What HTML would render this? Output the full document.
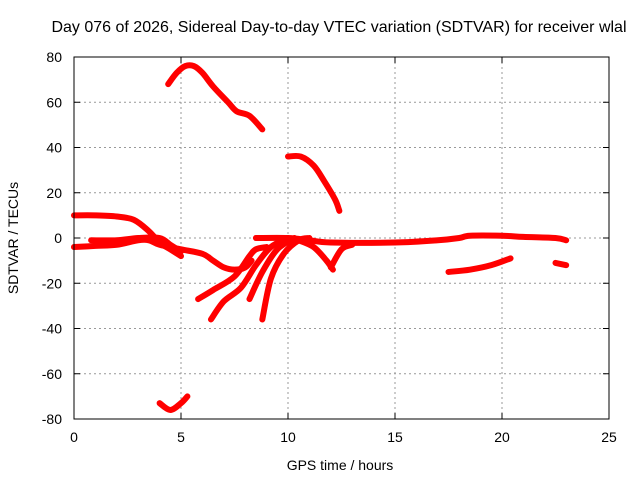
<!DOCTYPE html>
<html><head><meta charset="utf-8"><style>
body{margin:0;background:#fff;width:640px;height:480px;overflow:hidden}
svg{font-family:"Liberation Sans",sans-serif;font-size:14px}
</style></head><body>
<svg id="chart" width="640" height="480" viewBox="0 0 640 480">
<text x="339" y="32" text-anchor="middle" font-size="16">Day 076 of 2026, Sidereal Day-to-day VTEC variation (SDTVAR) for receiver wlal</text>
<g id="grid"></g>
<g id="series"></g>
<rect x="74" y="57" width="535" height="362" fill="none" stroke="#000" stroke-width="1"/>
<g id="ticks"></g>
<text x="340" y="470" text-anchor="middle">GPS time / hours</text>
<text transform="translate(18,238) rotate(-90)" text-anchor="middle">SDTVAR / TECUs</text>
</svg>
<script>
const xTicks=[0,5,10,15,20,25];
const yTicks=[80,60,40,20,0,-20,-40,-60,-80];
const arcTop=[[4.4,68],[4.8,73],[5.2,76],[5.6,76],[6,73],[6.5,67],[7.2,60],[7.6,56],[8.2,54],[8.8,48]];
const arcMid=[[10,36],[10.6,36],[11.2,32],[11.7,25],[12.2,17],[12.4,12]];
const trackA=[[0,10],[1,10],[2,9.5],[2.8,8],[3.5,3],[4,-2],[4.5,-5],[5,-8]];
const trackB=[[0,-4],[1,-3.5],[2,-3],[3,-1],[3.5,-1],[4,-3],[5,-5],[6,-7],[6.5,-10],[7,-13],[7.5,-14],[8,-13],[8.3,-10]];
const trackC=[[0.8,-1],[2,-1],[3,0],[4,0],[4.5,-3],[5,-6]];
const trackD=[[8.5,0],[10,0],[11,-1],[12,-2],[15,-2],[17,-1],[18,0],[18.5,1],[20,1],[21,0.5],[22.5,0],[23,-1]];
const trackE=[[17.5,-15],[18.5,-14],[19.5,-12],[20.4,-9]];
const trackF=[[22.5,-11],[23,-12]];
const trackG=[[4,-73],[4.5,-76],[5,-73],[5.3,-70]];
const riseA=[[5.8,-27],[6.5,-23],[7.5,-17],[8.2,-8],[8.5,-5],[9,-4]];
const riseB=[[6.4,-36],[7,-28],[7.8,-22],[8.5,-12],[9.2,-4],[10,0]];
const riseC=[[8.2,-27],[8.8,-15],[9.5,-5],[10.3,0]];
const riseD=[[8.8,-36],[9.2,-18],[9.8,-7],[10.5,-1],[11,0]];
const dipA=[[10.5,-1],[11.2,-4],[11.8,-10],[12.1,-14]];
const dipB=[[12,-13],[12.5,-5],[13,-3]];
const allSeries=[arcTop,arcMid,trackA,trackB,trackC,trackD,trackE,trackF,trackG,riseA,riseB,riseC,riseD,dipA,dipB];
const NS='http://www.w3.org/2000/svg';
const X0=74,X1=609,Y0=57,Y1=419;
function sx(v){return X0+(v-0)/(25-0)*(X1-X0);}
function sy(v){return Y1-(v+80)/160*(Y1-Y0);}
const grid=document.getElementById('grid'),ticks=document.getElementById('ticks'),ser=document.getElementById('series');
function mk(tag,attrs,parent){const e=document.createElementNS(NS,tag);for(const k in attrs)e.setAttribute(k,attrs[k]);parent.appendChild(e);return e;}
function smooth(pts){
  let d='M'+pts[0][0]+','+pts[0][1];
  for(let i=0;i<pts.length-1;i++){
    const p0=pts[Math.max(0,i-1)],p1=pts[i],p2=pts[i+1],p3=pts[Math.min(pts.length-1,i+2)];
    const c1x=p1[0]+(p2[0]-p0[0])/6,c1y=p1[1]+(p2[1]-p0[1])/6;
    const c2x=p2[0]-(p3[0]-p1[0])/6,c2y=p2[1]-(p3[1]-p1[1])/6;
    d+=' C'+c1x+','+c1y+' '+c2x+','+c2y+' '+p2[0]+','+p2[1];
  }
  return d;
}
xTicks.forEach(t=>{
  const x=sx(t);
  if(t>0&&t<25){const g=mk('line',{x1:x,x2:x,y1:Y0,y2:Y1,stroke:'#999','stroke-dasharray':'2,3'},grid);
  
  }
  mk('line',{x1:x,x2:x,y1:Y1,y2:Y1-6,stroke:'#000'},ticks);mk('line',{x1:x,x2:x,y1:Y0,y2:Y0+6,stroke:'#000'},ticks);
  const l=mk('text',{x:x,y:Y1+23,'text-anchor':'middle'},ticks);l.textContent=t;
  
  
});
yTicks.forEach(t=>{
  const y=sy(t);
  if(t>-80&&t<80){const g=mk('line',{x1:X0,x2:X1,y1:y,y2:y,stroke:'#999','stroke-dasharray':'2,3'},grid);
  
  }
  mk('line',{x1:X0,x2:X0+6,y1:y,y2:y,stroke:'#000'},ticks);mk('line',{x1:X1,x2:X1-6,y1:y,y2:y,stroke:'#000'},ticks);
  const l=mk('text',{x:X0-12,y:y+5,'text-anchor':'end'},ticks);l.textContent=t;
  
  
});
allSeries.forEach(s=>{
  const p=mk('path',{d:smooth(s.map(d=>[sx(d[0]),sy(d[1])])),fill:'none',stroke:'#f00','stroke-width':6,'stroke-linejoin':'round','stroke-linecap':'round'},ser);
  
  
});
</script>
</body></html>
